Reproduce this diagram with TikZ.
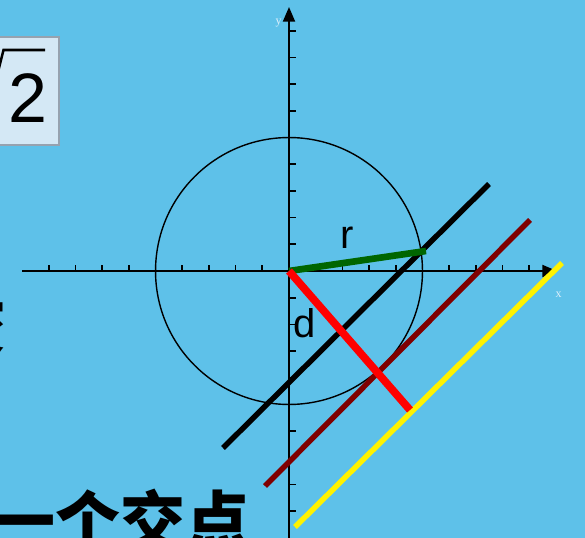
\documentclass[tikz,border=0pt]{standalone}
\usepackage{fontspec}
\usetikzlibrary{arrows.meta}
\newfontfamily\arialf{Liberation Sans}
\newfontfamily\serff{Liberation Serif}
\newfontfamily\cjkf{Noto Sans CJK SC}
\definecolor{bgblue}{RGB}{94,193,233}
\definecolor{boxfill}{RGB}{212,232,245}
\definecolor{boxline}{RGB}{150,162,175}
\definecolor{axlab}{RGB}{222,240,252}
\definecolor{dkred}{RGB}{128,0,0}
\definecolor{dkgreen}{RGB}{0,102,0}
\begin{document}
\begin{tikzpicture}[x=0.75pt,y=-0.75pt,
  axisline/.style={line width=1.5pt,-{Triangle[length=11pt,width=9pt]}},
  tickline/.style={line width=1.3pt},
  fatline/.style={line width=4.1pt},
  bigsans/.style={font=\arialf\fontsize{30}{36}\selectfont,inner sep=0pt},
  axislabel/.style={font=\serff\fontsize{9}{11}\selectfont,text=axlab,inner sep=0pt},
  cjktext/.style={font=\cjkf\bfseries\fontsize{48.75}{58}\selectfont,inner sep=0pt}]
\useasboundingbox (0,0) rectangle (585,538);
\fill[bgblue] (0,0) rectangle (585,538);
% sqrt 2 box
\draw[fill=boxfill,draw=boxline,line width=0.8pt] (-10,37) rectangle (59,145);
\node[font=\arialf\fontsize{52.5}{60}\selectfont,inner sep=0pt,anchor=base west] (two) at (8,123) {2};
\draw[line width=1.9pt,line join=miter] (-3,76) -- (3.5,50) -- (45,50);
% axes
\coordinate (o) at (289,271);
\coordinate (xs) at (22,271);
\coordinate (xe) at (557,271);
\coordinate (ys) at (289,545);
\coordinate (ye) at (289,7);
\draw[axisline] (xs) -- (xe);
\draw[axisline] (ys) -- (ye);
\foreach \k in {-9,...,-1,1,2,...,9}{
  \draw[tickline] ({289+26.7*\k},271) -- ++(0,-6);
  \draw[tickline] (289,{271+26.7*\k}) -- ++(7,0);
}
\node[axislabel] (ylab) at (278.5,23) {y};
\node[axislabel] (xlab) at (558.5,295) {x};
% circle
\draw[line width=1.05pt] (o) circle[radius=100.1pt];
% lines
\coordinate (b1) at (223,448); \coordinate (b2) at (489,184);
\coordinate (m1) at (265,486); \coordinate (m2) at (530,220);
\coordinate (y1) at (295,527); \coordinate (y2) at (562,263);
\draw[fatline,black] (b1) -- (b2);
\draw[fatline,dkred] (m1) -- (m2);
\draw[fatline,yellow] (y1) -- (y2);
% radius and distance
\coordinate (gend) at (426,251);
\coordinate (rend) at (410,410);
\draw[line width=5pt,dkgreen] (o) -- (gend);
\draw[line width=5.8pt,red] (o) -- (rend);
\node[bigsans,anchor=base west] (rlab) at (340,248) {r};
\node[bigsans,anchor=base west] (dlab) at (293.6,337) {d};
% Chinese text
\node[cjktext,anchor=base] (cut) at (-25.5,350) {交};
\node[cjktext,anchor=base west] (bottom) at (-9.5,545.5) {一个交点};
\end{tikzpicture}
\end{document}
